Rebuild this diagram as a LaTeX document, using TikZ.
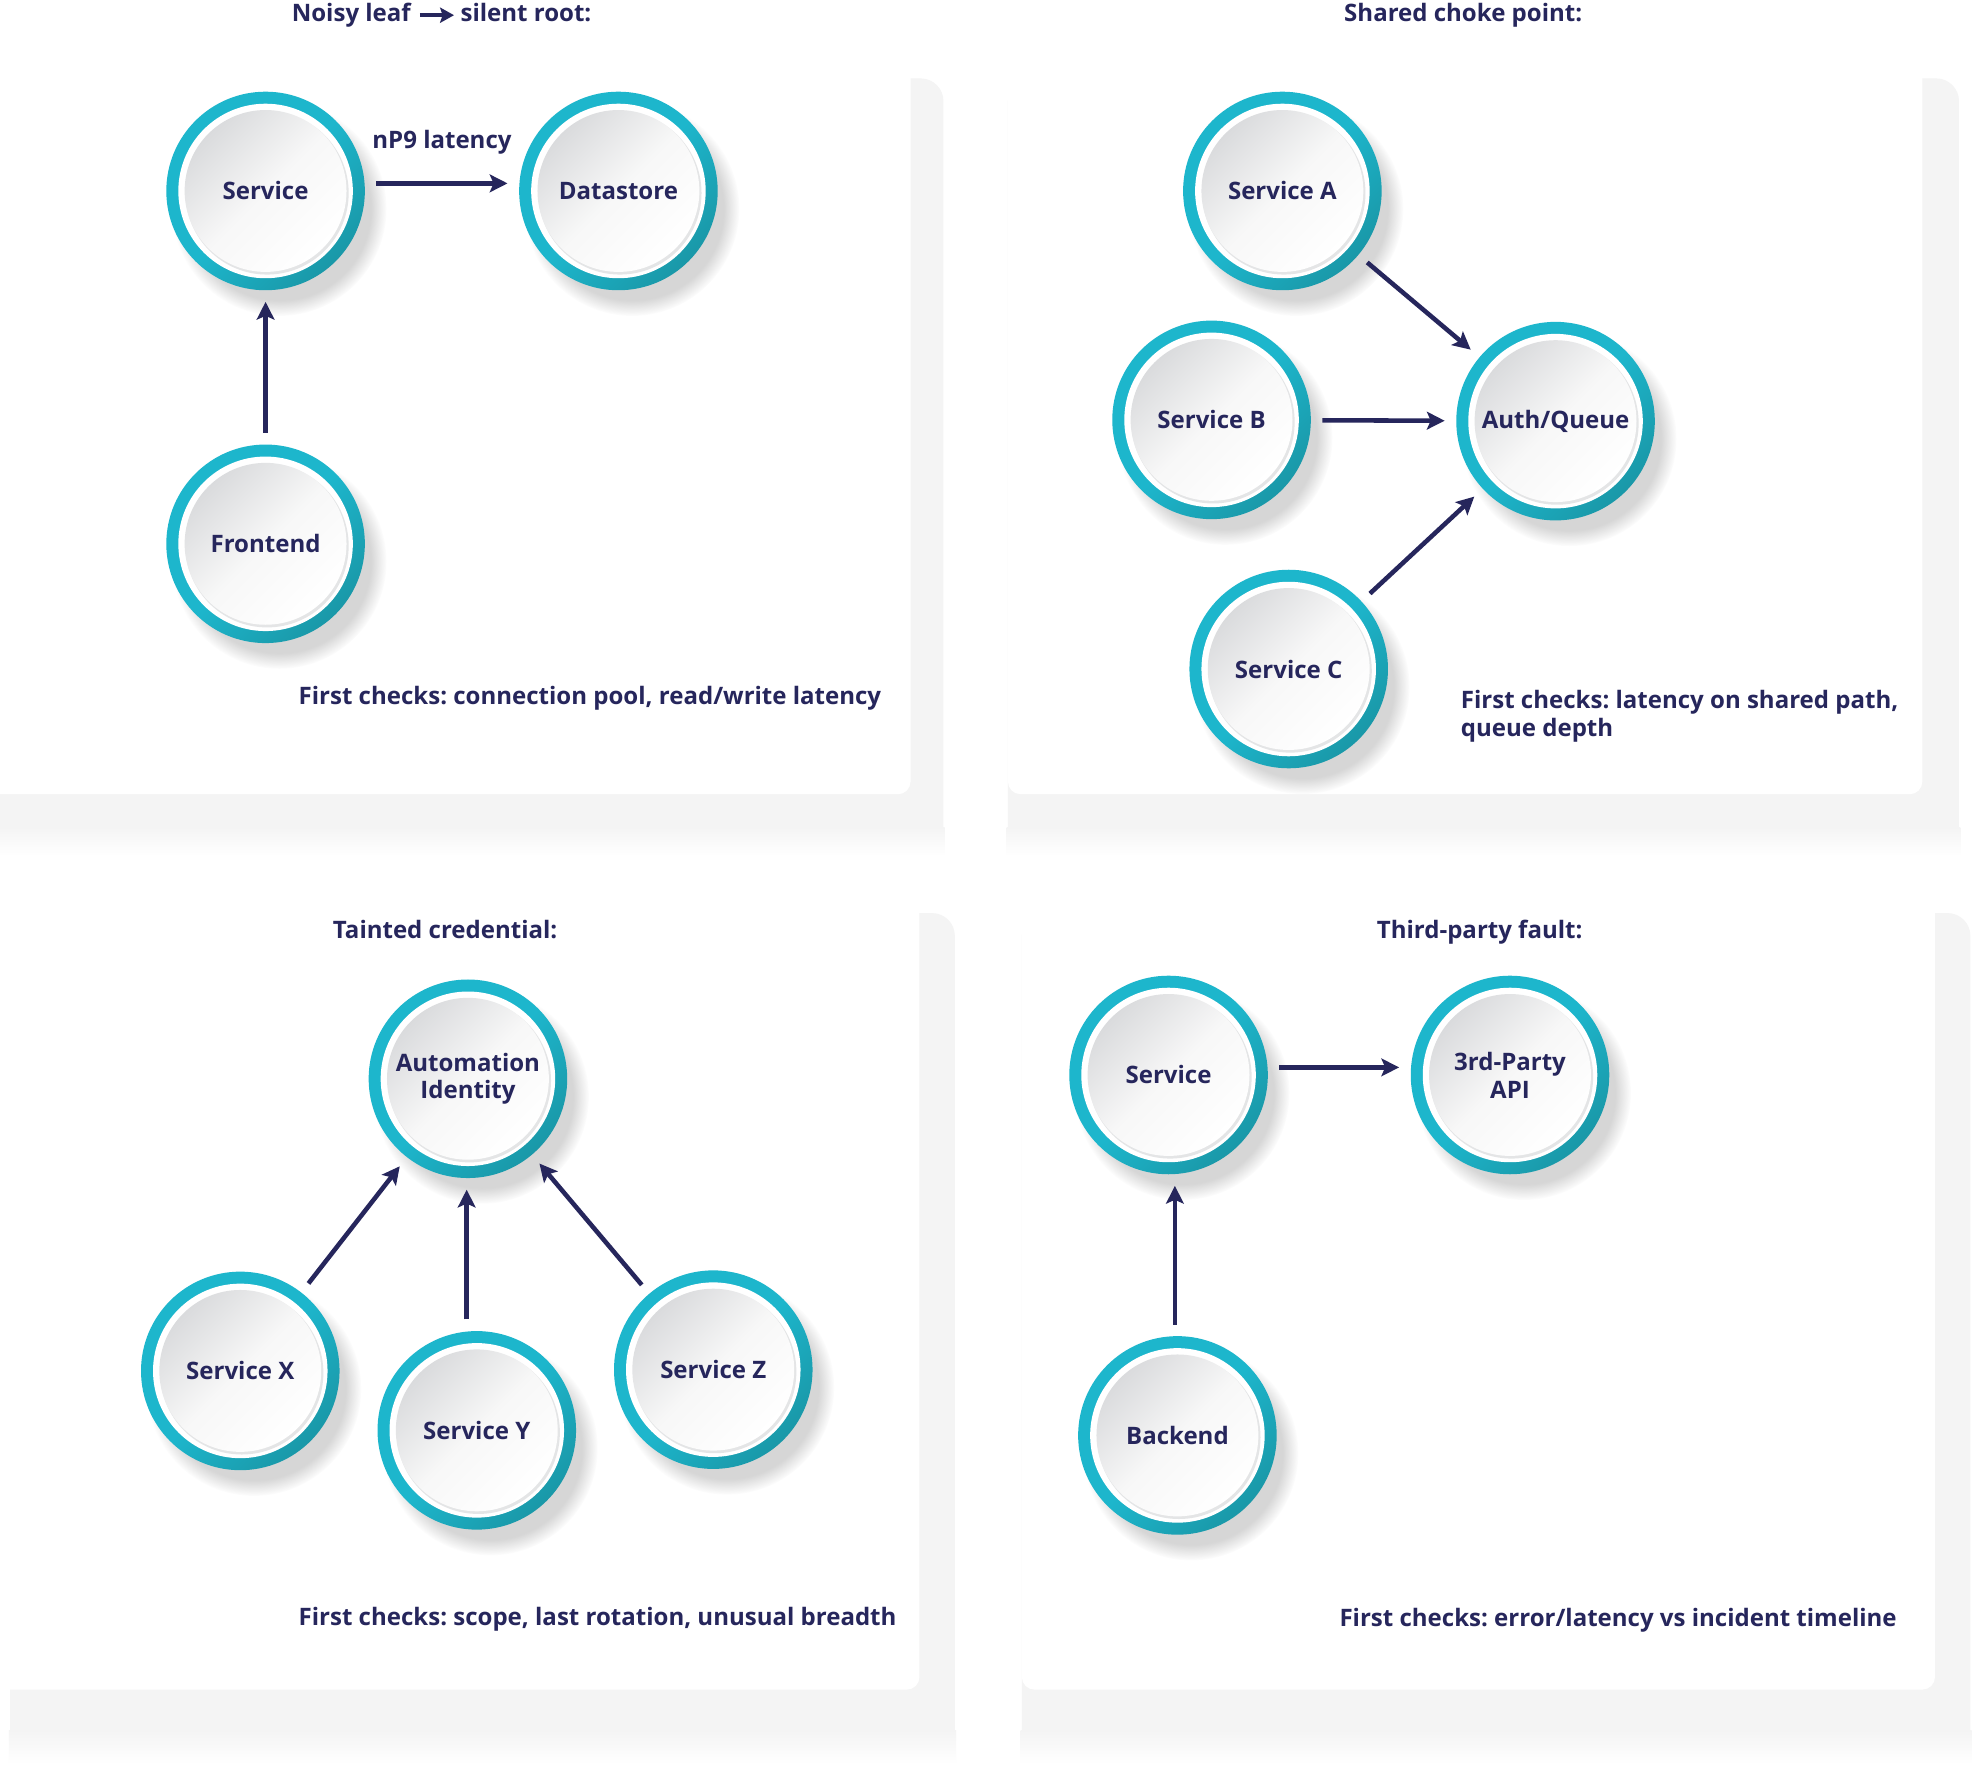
\documentclass[tikz,border=0pt]{standalone}
\usepackage{fontspec}
\setmainfont{Open Sans}
\usetikzlibrary{arrows.meta,shadows}

\definecolor{navy}{RGB}{38,38,92}
\definecolor{ringlite}{RGB}{29,182,204}
\definecolor{ringdark}{RGB}{26,152,168}
\definecolor{panelgrey}{RGB}{244,244,244}
\definecolor{discgrey}{RGB}{218,219,221}
\definecolor{lipgrey}{RGB}{228,229,230}

\tikzstyle{every node}=[font={\bfseries\fontsize{19}{22}\selectfont\frenchspacing}, text=navy, inner sep=0pt]
\tikzstyle{svc}=[circle, minimum size=157pt, align=center,
    circular drop shadow={shadow xshift=10pt, shadow yshift=-13pt, shadow scale=1.08, fill=black!40, opacity=0.4},
    top color=ringlite, bottom color=ringdark, middle color=ringlite, shading angle=45,
    path picture={
        \fill[white] (path picture bounding box.center) circle (69pt);
        \fill[lipgrey] ([shift={(1.2pt,-1.6pt)}]path picture bounding box.center) circle (64.5pt);
        \shade[top color=discgrey, bottom color=white, middle color=white!97!black, shading angle=45] (path picture bounding box.center) circle (64pt);
    }]
\tikzstyle{link}=[-{Stealth[length=14pt,width=14pt,inset=3pt]}, line width=3.6pt, draw=navy, shorten <=9pt, shorten >=9pt]
\tikzstyle{titlearrow}=[-{Stealth[length=11pt,width=12pt,inset=2pt]}, line width=3pt, draw=navy, shorten <=7pt, shorten >=5pt]
\tikzstyle{panel}=[fill=white, rounded corners=10pt]
\tikzstyle{backing}=[fill=panelgrey, rounded corners=18pt]
\tikzstyle{backfade}=[top color=panelgrey, bottom color=white]
\tikzstyle{caption}=[anchor=base]
\tikzstyle{check}=[anchor=base west, align=left]

\begin{document}
\begin{tikzpicture}[x=1pt,y=-1pt]
    \useasboundingbox[fill=white] (0,0) rectangle (1568,1397);

    \fill[backing] (0,62) rectangle (746,676);
    \shade[backfade] (-1,654) rectangle (747,677);
    \fill[panel] (-20,-20) rectangle (720,628);
    \fill[backing] (797,62) rectangle (1549,676);
    \shade[backfade] (796,654) rectangle (1550,677);
    \fill[panel] (797,-20) rectangle (1520,628);
    \fill[backing] (8,722) rectangle (755,1394);
    \shade[backfade] (7,1368) rectangle (756,1395);
    \fill[panel] (-20,680) rectangle (727,1336);
    \fill[backing] (808,722) rectangle (1558,1394);
    \shade[backfade] (807,1368) rectangle (1559,1395);
    \fill[panel] (808,680) rectangle (1530,1336);

    \node [caption, anchor=base east] (title1a) at (325,17) {Noisy leaf};
    \node [caption, anchor=base west] (title1b) at (364,17) {silent root:};
    \draw [titlearrow] (title1a.east) -- (title1a.east -| title1b.west);
    \node [svc] (service) at (210,151) {Service};
    \node [svc] (datastore) at (489,151) {Datastore};
    \node [svc] (frontend) at (210,430) {Frontend};
    \draw [link] ([yshift=6pt]service.east) -- node [above=21pt] (lat) {nP9 latency} ([yshift=6pt]datastore.west);
    \draw [link] (frontend) -- (service);
    \node [check] (check1) at (236,557) {First checks: connection pool, read/write latency};

    \node [caption] (title2) at (1157,17) {Shared choke point:};
    \node [svc] (svca) at (1014,151) {Service A};
    \node [svc] (svcb) at (958,332) {Service B};
    \node [svc] (authq) at (1230,333) {Auth/Queue};
    \node [svc] (svcc) at (1019,529) {Service C};
    \draw [link] (svca) -- (authq);
    \draw [link] (svcb) -- (authq);
    \draw [link] (svcc) -- (authq);
    \node [check] (check2) at (1155,582) {First checks: latency on shared path,\\queue depth};

    \node [caption] (title3) at (352,742) {Tainted credential:};
    \node [svc] (autoid) at (370,853) {Automation\\Identity};
    \node [svc] (svcx) at (190,1084) {Service X};
    \node [svc] (svcy) at (377,1131) {Service Y};
    \node [svc] (svcz) at (564,1083) {Service Z};
    \draw [link] (svcx) -- (autoid);
    \draw [link] ([xshift=-8pt]svcy.north) -- ([xshift=-1pt]autoid.south);
    \draw [link] (svcz) -- (autoid);
    \node [check] (check3) at (236,1285) {First checks: scope, last rotation, unusual breadth};

    \node [caption] (title4) at (1170,742) {Third-party fault:};
    \node [svc] (service2) at (924,850) {Service};
    \node [svc] (api) at (1194,850) {3rd-Party\\API};
    \node [svc] (backend) at (931,1135) {Backend};
    \draw [link] ([yshift=6pt]service2.east) -- ([yshift=6pt]api.west);
    \draw [link] ([xshift=-2pt]backend.north) -- ([xshift=5pt]service2.south);
    \node [check] (check4) at (1059,1286) {First checks: error/latency vs incident timeline};
\end{tikzpicture}
\end{document}
